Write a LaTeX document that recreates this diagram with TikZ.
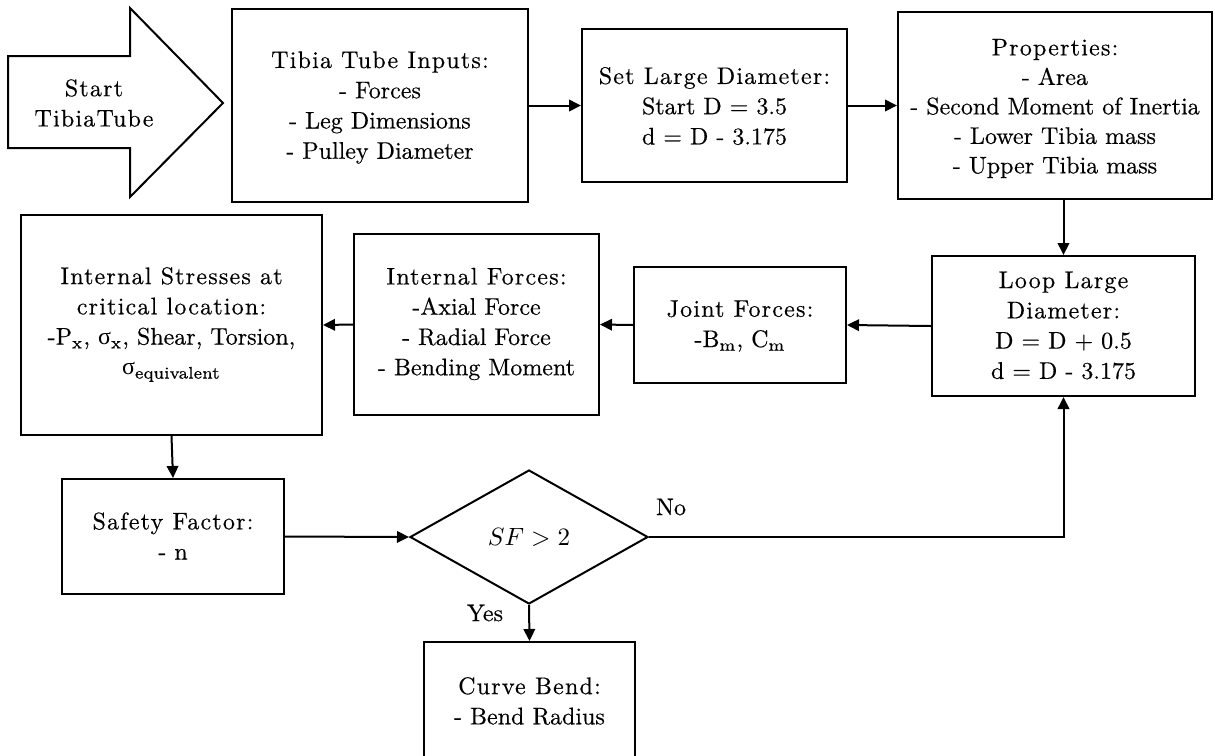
\documentclass[tikz,border=0pt]{standalone}
\usepackage{fontspec}
\setmainfont{Latin Modern Roman}[FakeBold=0.4]
\newfontfamily\ttlfont{Latin Modern Roman}[LetterSpace=5,FakeBold=0.4]
\newfontfamily\grkfont{Liberation Serif}
\usetikzlibrary{shapes.geometric,arrows.meta,fit}

\newcommand{\sgm}{{\grkfont σ}}

\begin{document}
\begin{tikzpicture}[x=0.4pt,y=-0.4pt,
  font=\fontsize{9.6}{12.1}\selectfont,
  box/.style={draw,line width=0.8pt,inner sep=0pt},
  txt/.style={align=center,inner sep=0pt},
  conn/.style={line width=0.8pt,-{Triangle[length=4.8pt,width=4.6pt]}},
  lbl/.style={inner sep=0pt}]
\clip (0,0) rectangle (1215,755);
\fill[white] (0,0) rectangle (1215,755);

% start arrow
\draw[line width=0.8pt,line join=miter] (8,56) -- (130,56) -- (130,8) -- (223,103)
  -- (130,197) -- (130,148) -- (8,148) -- cycle;
\node[txt] (start) at (94,103) {\ttlfont Start\\\ttlfont TibiaTube};

% process boxes
\node[box,fit={(232,9) (528,202)}] (inputs) {};
\node[box,fit={(582,29) (847,182)}] (setd) {};
\node[box,fit={(898,12) (1212,199)}] (props) {};
\node[box,fit={(932,256) (1195,396)}] (loop) {};
\node[box,fit={(634,267) (846,383)}] (joint) {};
\node[box,fit={(354,234) (599,415)}] (intf) {};
\node[box,fit={(21,215) (322,435)}] (stress) {};
\node[box,fit={(62,479) (284,594)}] (safety) {};
\node[draw,diamond,line width=0.8pt,inner sep=0pt,
  minimum width=95.2pt,minimum height=53.6pt] (sf) at (529,537) {$SF > 2$};
\node[box,fit={(424,642) (635,760)}] (bend) {};

% box texts
\node[txt] (inputs-t) at ([yshift=-0.8pt]inputs.center)
  {{\ttlfont Tibia Tube Inputs:}\\- Forces\\- Leg Dimensions\\- Pulley Diameter};
\node[txt] (setd-t) at ([yshift=-0.2pt]setd.center)
  {{\ttlfont Set Large Diameter:}\\Start D = 3.5\\d = D - 3.175};
\node[txt,font=\fontsize{9.6}{11.8}\selectfont] (props-t) at ([yshift=-1.2pt]props.center)
  {{\ttlfont Properties:}\\- Area\\- Second Moment of Inertia\\- Lower Tibia mass\\- Upper Tibia mass};
\node[txt] (loop-t) at ([yshift=0.2pt]loop.center)
  {{\ttlfont Loop Large}\\{\ttlfont Diameter:}\\D = D + 0.5\\d = D - 3.175};
\node[txt] (joint-t) at ([yshift=-0.4pt]joint.center)
  {{\ttlfont Joint Forces:}\\-B\textsubscript{m}, C\textsubscript{m}};
\node[txt] (intf-t) at ([yshift=0.2pt]intf.center)
  {{\ttlfont Internal Forces:}\\-Axial Force\\- Radial Force\\- Bending Moment};
\node[txt] (stress-t) at ([yshift=0.2pt]stress.center)
  {{\ttlfont Internal Stresses at}\\{\ttlfont critical location:}\\
   -P\textsubscript{x}, \sgm\textsubscript{x}, Shear, Torsion,\\\sgm\textsubscript{equivalent}};
\node[txt] (safety-t) at ([yshift=0.2pt]safety.center)
  {{\ttlfont Safety Factor:}\\- n};
\node[txt] (bend-t) at ([yshift=0pt]bend.center)
  {{\ttlfont Curve Bend:}\\- Bend Radius};

% connectors
\draw[conn] (inputs.east) -- (setd.west);
\draw[conn] (setd.east) -- (props.west);
\draw[conn] (props.south -| loop.north) -- (loop.north);
\draw[conn] (loop.west) -- (joint.east);
\draw[conn] (joint.west) -- (intf.east);
\draw[conn] (intf.west) -- (stress.east);
\draw[conn] (stress.south) -- (safety.north);
\draw[conn] (safety.east) -- (sf.west);
\draw[conn] (sf.east) -| (loop.south);
\draw[conn] (sf.south) -- (bend.north);

% branch labels
\node[lbl] (nolbl) at (671,507) {No};
\node[lbl] (yeslbl) at (485,613) {Yes};
\end{tikzpicture}
\end{document}
